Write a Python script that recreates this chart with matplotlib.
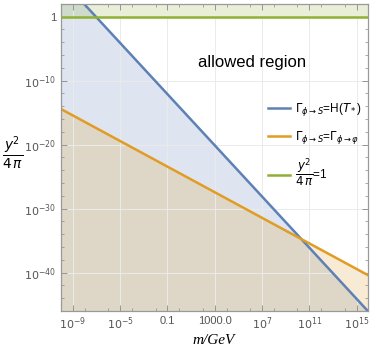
import numpy as np
import matplotlib
matplotlib.use("Agg")
import matplotlib.pyplot as plt
from matplotlib.ticker import FixedLocator, NullFormatter

# masses (GeV) at the two ends of the plotted range
m_vals = [1e-10, 1e16]
# Gamma_{phi->S} = H(T_*)
blue_y = [8e5, 8e-47]
# Gamma_{phi->S} = Gamma_{phi->varphi}
orange_y = [3.7e-15, 3.7e-41]
# perturbativity bound y^2/4pi = 1
green_y = [1.0, 1.0]

x_ticks = [1e-9, 1e-5, 1e-1, 1e3, 1e7, 1e11, 1e15]
x_labels = [r"$10^{-9}$", r"$10^{-5}$", "0.1", "1000.0", r"$10^{7}$", r"$10^{11}$", r"$10^{15}$"]
y_ticks = [1, 1e-10, 1e-20, 1e-30, 1e-40]
y_labels = ["1", r"$10^{-10}$", r"$10^{-20}$", r"$10^{-30}$", r"$10^{-40}$"]

blue = "#5E81B5"
orange = "#E19C24"
green = "#8FB032"
ymin, ymax = 1e-46, 1e2

plt.rcParams["font.family"] = ["Liberation Sans", "DejaVu Sans"]
plt.rcParams["mathtext.fontset"] = "dejavusans"

fig = plt.figure(figsize=(3.74, 3.53), dpi=100)
ax = fig.add_axes([0.163, 0.119, 0.822, 0.870])
ax.set_xscale("log")
ax.set_yscale("log")

ax.fill_between(m_vals, blue_y, ymin, color=blue, alpha=0.2, lw=0)
ax.fill_between(m_vals, orange_y, ymin, color=orange, alpha=0.2, lw=0)
ax.fill_between(m_vals, green_y, ymax, color=green, alpha=0.2, lw=0)

ax.plot(m_vals, blue_y, color=blue, lw=1.8,
        label=r"$\Gamma_{\phi\to S}$=H($T_*$)")
ax.plot(m_vals, orange_y, color=orange, lw=1.8,
        label=r"$\Gamma_{\phi\to S}$=$\Gamma_{\phi\to\varphi}$")
ax.plot(m_vals, green_y, color=green, lw=1.8,
        label=r"$\dfrac{y^2}{4\,\pi}$=1")

ax.set_xlim(1e-10, 1e16)
ax.set_ylim(ymin, ymax)

ax.xaxis.set_major_locator(FixedLocator(x_ticks))
ax.set_xticklabels(x_labels)
ax.xaxis.set_minor_locator(FixedLocator([10.0 ** k for k in range(-10, 17, 2)]))
ax.xaxis.set_minor_formatter(NullFormatter())
ax.yaxis.set_major_locator(FixedLocator(y_ticks))
ax.set_yticklabels(y_labels)
ax.yaxis.set_minor_locator(FixedLocator([10.0 ** k for k in range(-46, 3, 2)]))
ax.yaxis.set_minor_formatter(NullFormatter())

ax.grid(True, which="major", color="#ebebeb", lw=0.7)
ax.tick_params(which="both", direction="in", top=True, right=True,
               colors="#888888", labelcolor="#555555", labelsize=8)
ax.tick_params(which="major", length=4, width=0.6)
ax.tick_params(which="minor", length=2, width=0.5)
for s in ax.spines.values():
    s.set_color("#999999")
    s.set_linewidth(0.9)

ax.text(0.62, 0.81, "allowed region", transform=ax.transAxes,
        fontsize=12, ha="center", va="center")

ax.legend(loc="upper left", bbox_to_anchor=(0.657, 0.70), frameon=False,
          fontsize=8.5, handlelength=1.9, labelspacing=0.95, handletextpad=0.4,
          borderaxespad=0.0)

fig.text(0.035, 0.565, r"$\frac{y^2}{4\,\pi}$", fontsize=14, ha="center", va="center")
fig.text(0.57, 0.035, "m/GeV", fontsize=11, ha="center", va="center",
         family="Liberation Serif", style="italic")

fig.savefig("out.png", dpi=100)
